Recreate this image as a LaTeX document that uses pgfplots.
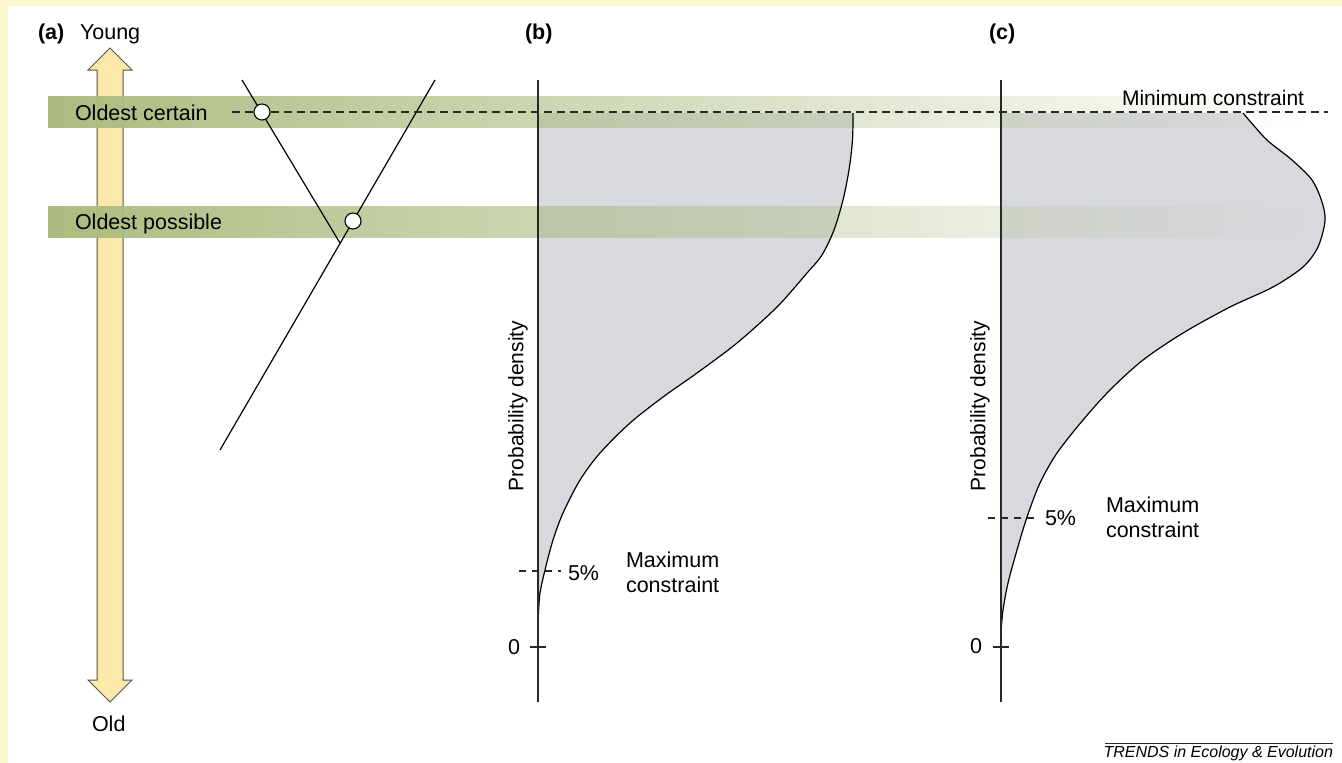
\documentclass[border=0pt]{standalone}
\usepackage{fontspec}
\setmainfont{Liberation Sans}
\usepackage{pgfplots}
\pgfplotsset{compat=1.18}
\usetikzlibrary{fadings}
\tikzfading[name=bandfade, left color=transparent!0, middle color=transparent!45, right color=transparent!100]
\definecolor{bordery}{RGB}{252,246,206}
\definecolor{arrowy}{RGB}{252,233,170}
\definecolor{curvegray}{RGB}{216,217,222}
\definecolor{bandcol}{RGB}{172,188,128}
\definecolor{dk}{RGB}{40,40,40}
\newcommand{\fs}{\fontsize{21.5}{26}\selectfont}
\tikzset{lbl/.style={inner sep=0pt, outer sep=0pt}}
\begin{document}
\begin{tikzpicture}
% page background (white with pale yellow frame at top and left)
\fill[white] (0,0) rectangle (1342pt,763pt);
\fill[bordery] (0,757pt) rectangle (1342pt,763pt);
\fill[bordery] (0,0) rectangle (8pt,763pt);
\begin{axis}[width=1342pt, height=763pt, scale only axis,
  xmin=0, xmax=1342, ymin=0, ymax=763, y dir=reverse,
  axis lines=none, ticks=none, clip=false]

% ---- time arrow (a)
\addplot[fill=arrowy, draw=dk!80, line width=1pt] coordinates {
 (110,48) (132,70) (123,70) (123,680) (132,680) (110,702) (88,680) (97,680) (97,70) (88,70)} -- cycle;

% ---- density area (b)
\addplot[fill=curvegray, draw=none, smooth, tension=0.5] coordinates {
 (853,113) (852.5,140) (849,170) (843,200) (834,230) (822,255) (807,273) (777,307)
 (737,343) (697,373) (663,397) (630,423) (600,453) (580,480) (563,513) (553,540)
 (545,570) (540,593) (538.5,612) (538,622)} -- (axis cs:538,113) -- cycle;

% ---- density area (c)
\addplot[fill=curvegray, draw=none, smooth, tension=0.5] coordinates {
 (1243,113) (1255,127) (1268,141) (1292,160) (1312,180) (1322,202) (1325,221)
 (1318,247) (1303,267) (1273,287) (1230,307) (1183,333) (1143,360) (1110,390)
 (1083,420) (1057,453) (1040,483) (1027,517) (1017,550) (1008,583) (1003,610) (1001,632)}
 -- (axis cs:1001,113) -- cycle;

% ---- age bands
\addplot[draw=none, fill=bandcol, path fading=bandfade] coordinates {
 (48,96) (1300,96) (1300,128) (48,128)} -- cycle;
\addplot[draw=none, fill=bandcol, path fading=bandfade] coordinates {
 (48,206) (1300,206) (1300,238) (48,238)} -- cycle;

% ---- density curves
\addplot[smooth, tension=0.5, draw=black, line width=1.2pt] coordinates {
 (853,113) (852.5,140) (849,170) (843,200) (834,230) (822,255) (807,273) (777,307)
 (737,343) (697,373) (663,397) (630,423) (600,453) (580,480) (563,513) (553,540)
 (545,570) (540,593) (538.5,612) (538,622)};
\addplot[smooth, tension=0.5, draw=black, line width=1.2pt] coordinates {
 (1243,113) (1255,127) (1268,141) (1292,160) (1312,180) (1322,202) (1325,221)
 (1318,247) (1303,267) (1273,287) (1230,307) (1183,333) (1143,360) (1110,390)
 (1083,420) (1057,453) (1040,483) (1027,517) (1017,550) (1008,583) (1003,610) (1001,632)};

% ---- density axes
\addplot[draw=dk, line width=1.2pt] coordinates {(538,80) (538,702)};
\addplot[draw=dk, line width=1.2pt] coordinates {(1001,80) (1001,702)};
\addplot[draw=dk, line width=1.2pt] coordinates {(530,647) (546,647)};
\addplot[draw=dk, line width=1.2pt] coordinates {(993,647) (1009,647)};
\addplot[draw=dk, line width=1.1pt, dash pattern=on 7pt off 6pt] coordinates {(519,571) (561,571)};
\addplot[draw=dk, line width=1.1pt, dash pattern=on 7pt off 6pt] coordinates {(988,518) (1039,518)};

% ---- tree lines (a)
\addplot[draw=black, line width=1.2pt] coordinates {(242,80) (340,243)};
\addplot[draw=black, line width=1.2pt] coordinates {(435,80) (220,450)};

% ---- minimum constraint dashed line
\addplot[draw=dk, line width=1.1pt, dash pattern=on 8pt off 5pt] coordinates {(232,112) (1328,112)};

% ---- fossil calibration points
\addplot[only marks, mark=*, mark size=8, mark options={fill=white, draw=black, line width=1.1pt}]
 coordinates {(262,112) (353,221)};

% ---- footer rule
\addplot[draw=dk, line width=0.8pt] coordinates {(1105,743) (1333,743)};

% ---- texts
\node[lbl, anchor=base west, font=\fs\bfseries] at (axis cs:38,39) {(a)};
\node[lbl, anchor=base west, font=\fs] at (axis cs:80,39) {Young};
\node[lbl, anchor=base west, font=\fs\bfseries] at (axis cs:525,39) {(b)};
\node[lbl, anchor=base west, font=\fs\bfseries] at (axis cs:989,39) {(c)};
\node[lbl, anchor=base west, font=\fs] at (axis cs:75,120) {Oldest certain};
\node[lbl, anchor=base west, font=\fs] at (axis cs:75,229) {Oldest possible};
\node[lbl, anchor=base west, font=\fontsize{21}{25}\selectfont] at (axis cs:1122,105) {Minimum constraint};
\node[lbl, anchor=base west, font=\fs] at (axis cs:92,731) {Old};
\node[lbl, anchor=center, rotate=90, font=\fontsize{21}{25}\selectfont] at (axis cs:518,406) {Probability density};
\node[lbl, anchor=center, rotate=90, font=\fontsize{21}{25}\selectfont] at (axis cs:980,406) {Probability density};
\node[lbl, anchor=base west, font=\fs] at (axis cs:626,567) {Maximum};
\node[lbl, anchor=base west, font=\fs] at (axis cs:626,592) {constraint};
\node[lbl, anchor=base west, font=\fs] at (axis cs:1106,512) {Maximum};
\node[lbl, anchor=base west, font=\fs] at (axis cs:1106,537) {constraint};
\node[lbl, anchor=base west, font=\fs] at (axis cs:568,580) {5\%};
\node[lbl, anchor=base west, font=\fs] at (axis cs:1045,525) {5\%};
\node[lbl, anchor=base east, font=\fs] at (axis cs:520,654) {0};
\node[lbl, anchor=base east, font=\fs] at (axis cs:982,653) {0};
\node[lbl, anchor=base east, font=\fontsize{16}{19}\selectfont\itshape] at (axis cs:1333,757) {TRENDS in Ecology \& Evolution};
\end{axis}
\end{tikzpicture}
\end{document}
